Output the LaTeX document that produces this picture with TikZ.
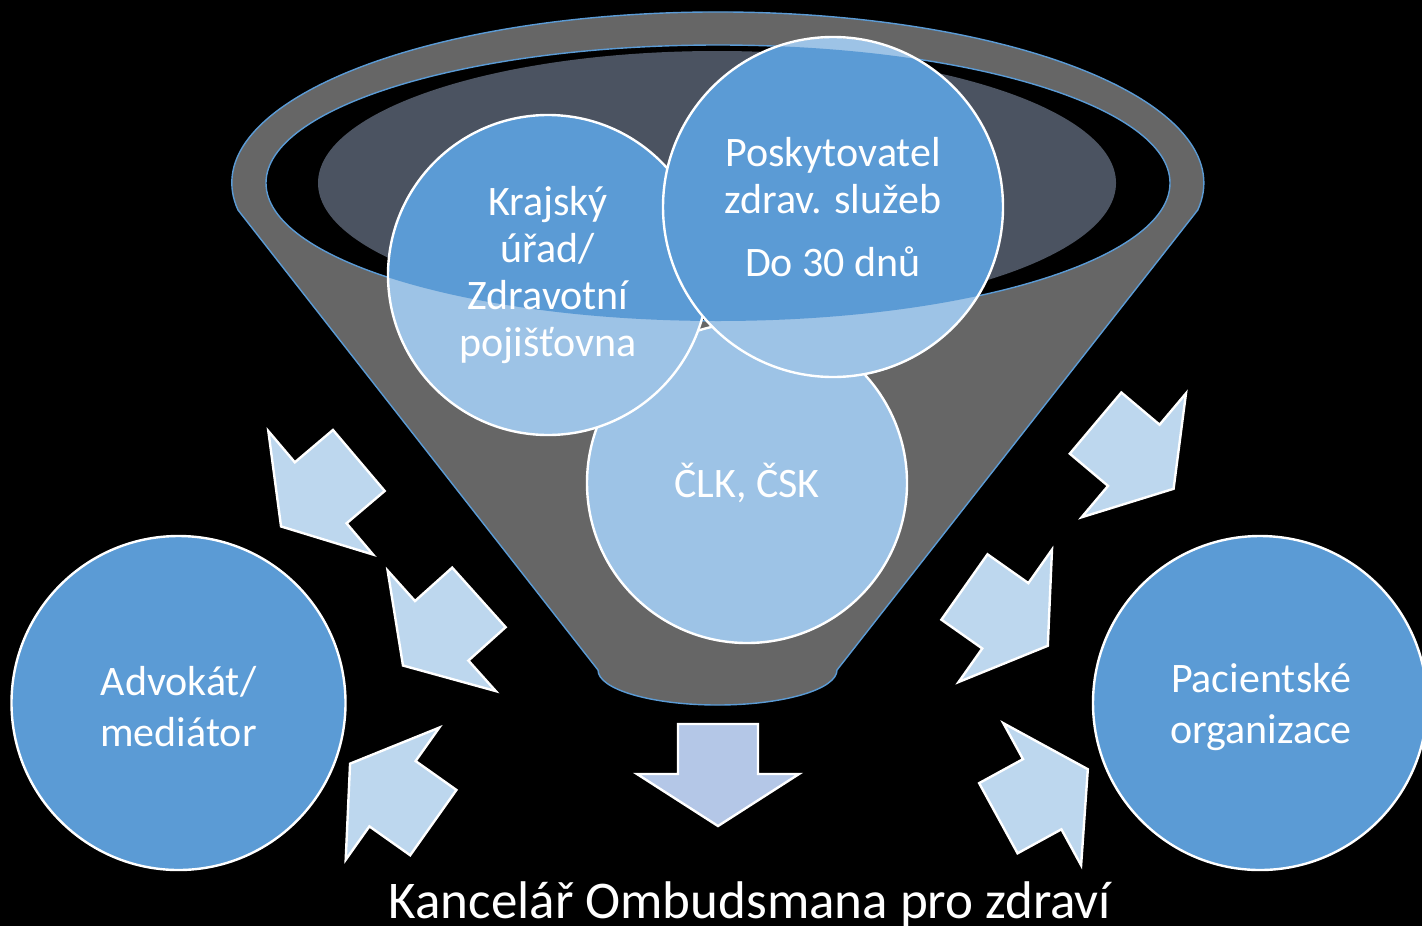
\documentclass[tikz,border=0pt]{standalone}
\usepackage{fontspec}
\setmainfont{Carlito}
\definecolor{funnelgray}{HTML}{666666}
\definecolor{rimblue}{HTML}{5B9BD5}
\definecolor{slatefill}{HTML}{4B5361}
\definecolor{circblue}{HTML}{5B9BD5}
\definecolor{circlight}{HTML}{9DC3E6}
\definecolor{arrowfill}{HTML}{BDD7EE}
\definecolor{downfill}{HTML}{B4C7E7}
\begin{document}
\begin{tikzpicture}[x=0.5pt,y=-0.5pt,
  funnel/.style={fill=funnelgray, draw=rimblue, line width=0.7pt},
  rim/.style={fill=black, draw=rimblue, line width=0.7pt},
  bubble/.style={circle, draw=white, line width=1.2pt, inner sep=0pt, text=white,
    align=center, font=\fontsize{21}{23.5}\selectfont},
  sidebubble/.style={bubble, fill=circblue, minimum size=167pt},
  sidetext/.style={text=white, inner sep=0pt, align=center, font=\fontsize{21}{25.5}\selectfont},
  inarrow/.style={fill=arrowfill, draw=white, line width=1.2pt, line join=miter},
  downarrow/.style={fill=downfill, draw=white, line width=1.2pt, line join=miter},
  blockarrow/.pic={\path[#1] (-50,-40) -- (0,-40) -- (0,-81) -- (52,0) -- (0,81) -- (0,40) -- (-50,40) -- cycle;}
]
\fill[black] (0,0) rectangle (1422,926);
\useasboundingbox (0,0) rectangle (1422,926);

% funnel body
\path[funnel] (238,210) arc[start angle=170.9, end angle=369.1, x radius=486, y radius=171]
  -- (837,670) arc[start angle=0, end angle=180, x radius=119.5, y radius=35] -- cycle;
\path[rim] (718,183) ellipse [x radius=452, y radius=138];
\fill[slatefill] (717,183) ellipse [x radius=399, y radius=132];

% circles in the funnel
\node[bubble, fill=circlight, minimum size=160pt] (clk) at (747,483) {ČLK, ČSK};

\fill[circlight] (548,275) circle [radius=160];
\begin{scope}
  \clip (718,183) ellipse [x radius=452, y radius=138];
  \fill[circblue] (548,275) circle [radius=160];
\end{scope}
\node[bubble, minimum size=160pt] (kraj) at (548,275) {Krajský\\úřad/\\Zdravotní\\pojišťovna};

\fill[circlight] (833,208) circle [radius=170];
\begin{scope}
  \clip (718,183) ellipse [x radius=452, y radius=138];
  \fill[circblue] (833,208) circle [radius=170];
\end{scope}
\node[bubble, minimum size=170pt] (posk) at (833,207) {Poskytovatel\\zdrav. služeb\\[8pt]Do 30 dnů};

% side circles
\node[sidebubble] (advokat) at (178.5,703) {};
\node[sidetext] (advokattext) at (178.5,707) {Advokát/\\mediátor};
\node[sidebubble] (pacient) at (1260,703) {};
\node[sidetext] (pacienttext) at (1261,707) {Pacientské\\organizace};

% arrows
\pic[rotate=-139.7] at (320.7,492.8) {blockarrow=inarrow};
\pic[rotate=-138.1] at (441.7,630.8) {blockarrow=inarrow};
\pic[rotate=144.7] at (392.5,793.7) {blockarrow=inarrow};
\pic[rotate=-40.1] at (1133.8,455.3) {blockarrow=inarrow};
\pic[rotate=-35.2] at (1005.3,615.8) {blockarrow=inarrow};
\pic[rotate=28.7] at (1042.2,794.2) {blockarrow=inarrow};
\pic[rotate=-90] at (718,774) {blockarrow=downarrow};

% title
\node[text=white, anchor=base, inner sep=0pt, font=\fontsize{26.5}{30}\selectfont] (title) at (750,918) {Kancelář Ombudsmana pro zdraví};
\end{tikzpicture}
\end{document}
